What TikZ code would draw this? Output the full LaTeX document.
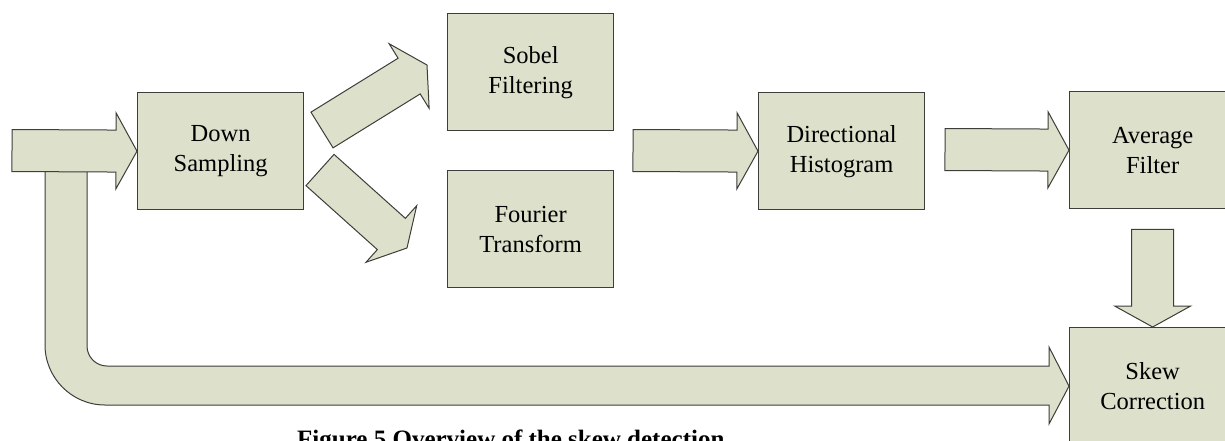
\documentclass[tikz,border=0pt]{standalone}
\usepackage{fontspec}
\setmainfont{Liberation Serif}
\usetikzlibrary{calc}

\definecolor{boxfill}{RGB}{221,224,203}
\definecolor{edge}{RGB}{60,62,58}

\tikzset{
  stage/.style={draw=edge, fill=boxfill, line width=1.3pt,
    minimum width=166pt, minimum height=117pt, inner sep=0pt,
    align=center, anchor=north west,
    font=\fontsize{24.5}{30}\selectfont},
  blockarrow/.style={draw=edge, fill=boxfill, line width=1pt, line join=miter},
}

% Block arrow from #1 (tail centre) to #2 (tip): shaft 42, head 76 wide, head 21 long
\newcommand\barrow[2]{%
  \path let \p1=(#1), \p2=(#2),
      \n1={atan2(\y2-\y1,\x2-\x1)}, \n2={veclen(\x2-\x1,\y2-\y1)} in
    \pgfextra{\pgfmathsetmacro\baA{\n1}\pgfmathsetmacro\baL{\n2}%
      \xdef\baAng{\baA}\xdef\baLen{\baL}\xdef\baX{\x1}\xdef\baY{\y1}};
  \pgfmathsetmacro\baHead{\baLen-21}%
  \begin{scope}[shift={(\baX,\baY)}, rotate=\baAng]
    \filldraw[blockarrow] (0,-21) -- (\baHead,-21) -- (\baHead,-38)
      -- (\baLen,0) -- (\baHead,38) -- (\baHead,21) -- (0,21) -- cycle;
  \end{scope}}

\begin{document}
\begin{tikzpicture}[x=1pt, y=-1pt]
  \useasboundingbox (0,0) rectangle (1225,440);
  \clip (0,0) rectangle (1225,440);

  % processing stages
  \node[stage] (down) at (137,92)   {Down\\Sampling};
  \node[stage] (sobel) at (447,13)  {Sobel\\Filtering};
  \node[stage] (four) at (447,170)  {Fourier\\Transform};
  \node[stage] (dir) at (758,92)    {Directional\\Histogram};
  \node[stage] (avg) at (1069,91)   {Average\\Filter};
  \node[stage] (skew) at (1069,327) {Skew\\Correction};

  % free ends of the block arrows
  \coordinate (in) at (12,150.5);
  \coordinate (u1) at (322,130);
  \coordinate (u2) at (427,65);
  \coordinate (d1) at (320,170);
  \coordinate (d2) at (407,248);
  \coordinate (m1) at (633,150.5);
  \coordinate (a1) at (945,149.5);
  \coordinate (s1) at ($(avg.south)+(0,20)$);

  % feedback arrow: from the input, down and along the bottom to skew correction
  \filldraw[blockarrow] (45,170) -- (45,345)
    .. controls (45,378) and (72,405) .. (105,405)
    -- (1049,405) -- (1049,424) -- (skew.west) -- (1049,347) -- (1049,366)
    -- (107,366) .. controls (96,366) and (87,357) .. (87,346)
    -- (87,170) -- cycle;

  \barrow{in}{down.west}
  \barrow{u1}{u2}
  \barrow{d1}{d2}
  \barrow{m1}{dir.west}
  \barrow{a1}{avg.west}
  \barrow{s1}{skew.north}

  % caption
  \node[anchor=north west, inner sep=0pt,
        font=\bfseries\fontsize{25}{30}\selectfont] (caption) at (297,430)
    {Figure 5 Overview of the skew detection};
\end{tikzpicture}
\end{document}
